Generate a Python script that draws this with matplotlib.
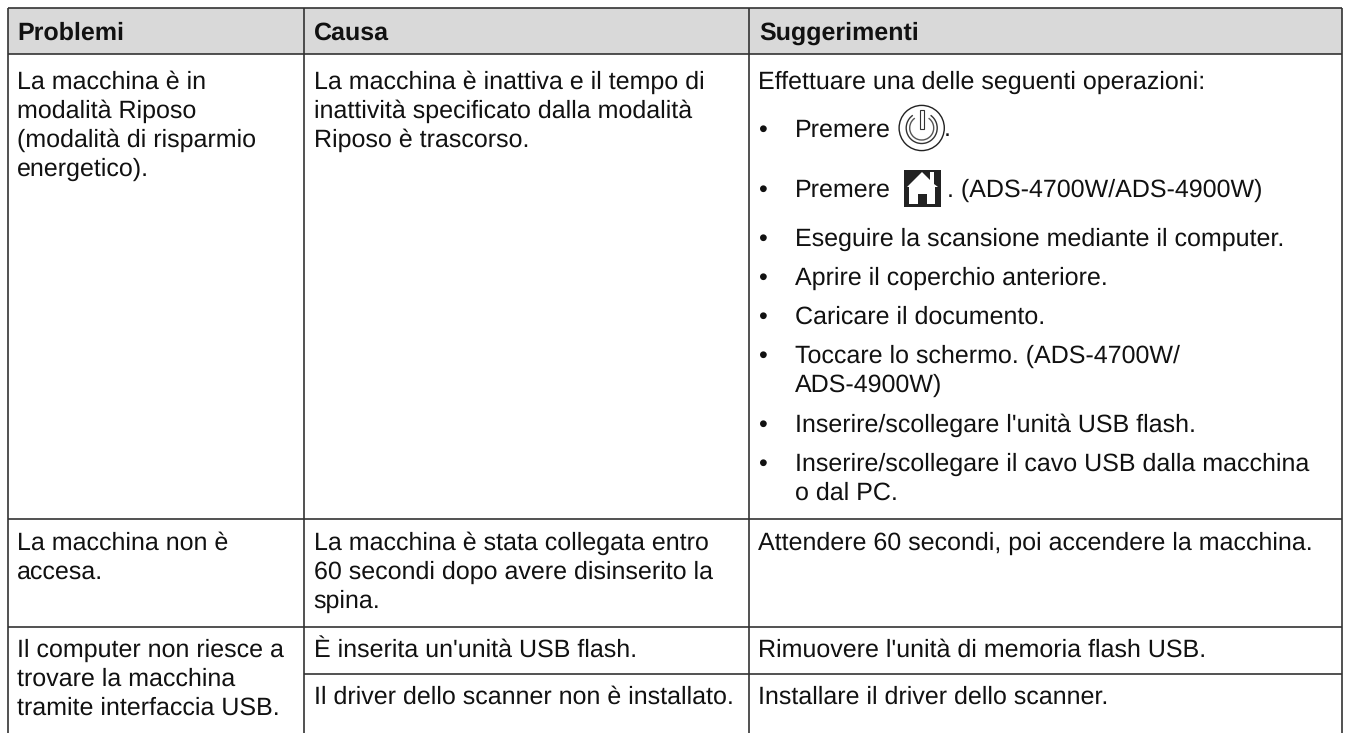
import matplotlib
matplotlib.use("Agg")
import matplotlib.pyplot as plt
from matplotlib.patches import Rectangle, Circle, Arc, Polygon

plt.rcParams['font.family'] = ['Liberation Sans', 'DejaVu Sans']
plt.rcParams['text.hinting'] = 'no_hinting'

headers = ["Problemi", "Causa", "Suggerimenti"]
col1_lines = [(87, "La macchina è in"), (116, "modalità Riposo"), (145, "(modalità di risparmio"), (174, "energetico)."),
              (548, "La macchina non è"), (577, "accesa."),
              (655, "Il computer non riesce a"), (684, "trovare la macchina"), (713, "tramite interfaccia USB.")]
col2_lines = [(87, "La macchina è inattiva e il tempo di"), (116, "inattività specificato dalla modalità"), (145, "Riposo è trascorso."),
              (548, "La macchina è stata collegata entro"), (577, "60 secondi dopo avere disinserito la"), (606, "spina."),
              (655, "È inserita un'unità USB flash."),
              (702, "Il driver dello scanner non è installato.")]
col3_lines = [(87, "Effettuare una delle seguenti operazioni:"),
              (548, "Attendere 60 secondi, poi accendere la macchina."),
              (655, "Rimuovere l'unità di memoria flash USB."),
              (702, "Installare il driver dello scanner.")]
bullet_lines = [(135, "Premere", True), (195, "Premere", True),
                (244, "Eseguire la scansione mediante il computer.", True),
                (283, "Aprire il coperchio anteriore.", True),
                (322, "Caricare il documento.", True),
                (361, "Toccare lo schermo. (ADS-4700W/", True),
                (390, "ADS-4900W)", False),
                (430, "Inserire/scollegare l'unità USB flash.", True),
                (469, "Inserire/scollegare il cavo USB dalla macchina", True),
                (498, "o dal PC.", False)]

X = [7.5, 304, 749, 1342]
FS = 18
DY = 1.5
fig = plt.figure(figsize=(13.47, 7.33), dpi=100)
ax = fig.add_axes([0, 0, 1, 1])
ax.set_xlim(0, 1347); ax.set_ylim(733, 0); ax.axis('off')

ax.add_patch(Rectangle((X[0], 8), X[3]-X[0], 46, fc='#d9d9d9', ec='none', zorder=0))
LC = '#333333'
def hl(y, x0=X[0], x1=X[3]):
    ax.plot([x0, x1], [y, y], color=LC, lw=1.2, solid_capstyle='butt')
for y in [8, 54, 519, 627]:
    hl(y)
hl(674, X[1], X[3])
for x in X:
    ax.plot([x, x], [8, 733], color=LC, lw=1.2, solid_capstyle='butt')

TC = '#111111'
for x, h in zip(X, headers):
    ax.text(x+10, 38+DY, h, fontsize=FS, fontweight='bold', color=TC, va='baseline')
for x, lines in zip(X, [col1_lines, col2_lines, col3_lines]):
    for y, s in lines:
        ax.text(x+9.5, y+DY, s, fontsize=FS, color=TC, va='baseline')
for y, s, b in bullet_lines:
    if b:
        ax.text(X[2]+9, y+DY, "•", fontsize=FS, color=TC, va='baseline')
    ax.text(795, y+DY, s, fontsize=FS, color=TC, va='baseline')

# power icon
ax.add_patch(Circle((921.7, 128), 22.6, fc='white', ec='#222222', lw=1))
ax.add_patch(Arc((921.7, 128), 31, 31, theta1=-55, theta2=235, angle=0, ec='#333333', lw=1))
ax.add_patch(Arc((921.7, 128), 24, 24, theta1=-55, theta2=235, angle=0, ec='#555555', lw=1))
ax.add_patch(Rectangle((919.7, 110), 4, 19, fc='white', ec='#333333', lw=.8))
ax.text(944, 135+DY, ".", fontsize=FS, color=TC, va='baseline')

# home icon
ax.add_patch(Rectangle((904, 170), 37, 37, fc='#222222', ec='none'))
ax.add_patch(Polygon([(907, 187), (922, 172), (930, 180), (930, 172), (934, 172), (934, 184), (938, 187),
                      (935, 187), (935, 204), (909, 204), (909, 187)],
                     closed=True, fc='white', ec='none'))
ax.add_patch(Rectangle((918, 194), 9, 13, fc='#222222', ec='none'))
ax.text(947, 195+DY, ". (ADS-4700W/ADS-4900W)", fontsize=FS, color=TC, va='baseline')

fig.savefig("out.png", dpi=100)
